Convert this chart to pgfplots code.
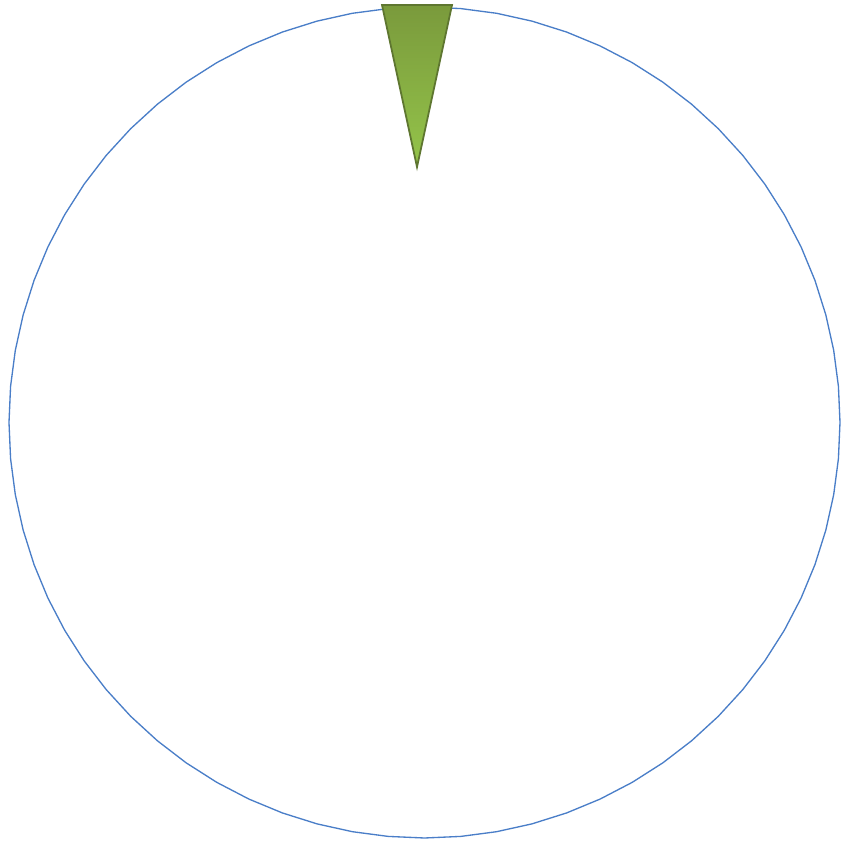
\documentclass[border=0pt]{standalone}
\usepackage{pgfplots}
\pgfplotsset{compat=1.18}
\usepgfplotslibrary{polar}
\definecolor{pieblue}{HTML}{4A7EC8}
\definecolor{gtop}{HTML}{7A9A3C}
\definecolor{gbot}{HTML}{94C44A}
\definecolor{gedge}{HTML}{5E7630}
\begin{document}
\begin{tikzpicture}
\begin{polaraxis}[
  hide axis,
  scale only axis,
  width=10cm, height=10cm,
  ymin=0, ymax=420,
  clip=false,
]
% invisible extent of the picture
\addplot[draw=none, mark=none, forget plot] coordinates {(0,424.5)(90,422.5)(180,424.5)(270,427.5)};
% big slice (white, blue outline)
\addplot[fill=white, draw=pieblue, line width=0.45pt, mark=none] coordinates {
(0,415.5)(5,415.5)(10,415.5)(15,415.5)(20,415.5)(25,415.5)(30,415.5)(35,415.5)(40,415.5)(45,415.5)
(50,415.5)(55,415.5)(60,415.5)(65,415.5)(70,415.5)(75,415.5)(80,415.5)(85,415.5)(90,415.5)(95,415.5)
(100,415.5)(105,415.5)(110,415.5)(115,415.5)(120,415.5)(125,415.5)(130,415.5)(135,415.5)(140,415.5)(145,415.5)
(150,415.5)(155,415.5)(160,415.5)(165,415.5)(170,415.5)(175,415.5)(180,415.5)(185,415.5)(190,415.5)(195,415.5)
(200,415.5)(205,415.5)(210,415.5)(215,415.5)(220,415.5)(225,415.5)(230,415.5)(235,415.5)(240,415.5)(245,415.5)
(250,415.5)(255,415.5)(260,415.5)(265,415.5)(270,415.5)(275,415.5)(280,415.5)(285,415.5)(290,415.5)(295,415.5)
(300,415.5)(305,415.5)(310,415.5)(315,415.5)(320,415.5)(325,415.5)(330,415.5)(335,415.5)(340,415.5)(345,415.5)
(350,415.5)(355,415.5)(360,415.5)} -- cycle;
% small slice (green wedge)
\addplot[top color=gtop, bottom color=gbot, draw=gedge, line width=0.6pt, mark=none] coordinates {
(95.81,419.66)(86.23,418.40)(91.68,255.61)} -- cycle;
\end{polaraxis}
\end{tikzpicture}
\end{document}
